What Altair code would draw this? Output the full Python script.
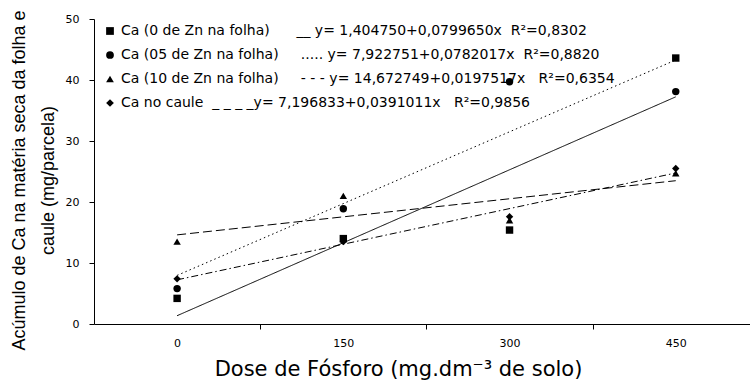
import altair as alt
import pandas as pd

# ---- data ----
doses = [0, 150, 300, 450]
series_names = [
    "Ca (0 de Zn na folha)",
    "Ca (05 de Zn na folha)",
    "Ca (10 de Zn na folha)",
    "Ca no caule",
]
ca_0zn = [4.2, 14.0, 15.4, 43.6]
ca_05zn = [5.8, 18.9, 39.7, 38.1]
ca_10zn = [13.5, 21.0, 17.0, 24.7]
ca_caule = [7.4, 13.5, 17.6, 25.5]
equations = [
    "__ y= 1,404750+0,0799650x",
    "..... y= 7,922751+0,0782017x",
    "- - - y= 14,672749+0,0197517x",
    "_ _ _ _y= 7,196833+0,0391011x",
]
r2_texts = ["R²=0,8302", "R²=0,8820", "R²=0,6354", "R²=0,9856"]
y_ticks = [0, 10, 20, 30, 40, 50]
x_labels = [0, 150, 300, 450]
x_ticks = [75, 225, 375]

NB = "\u00a0"
gap_name = [6, 5, 5, 2]
gap_r2 = [2, 2, 3, 3]
labels = [
    n + NB * g1 + e.replace(" ", NB) + NB * g2 + r
    for n, e, r, g1, g2 in zip(series_names, equations, r2_texts, gap_name, gap_r2)
]

rows = []
for lab, vals in zip(labels, [ca_0zn, ca_05zn, ca_10zn, ca_caule]):
    for d, v in zip(doses, vals):
        rows.append({"dose": d, "valor": v, "serie": lab})
df = pd.DataFrame(rows)

shapes = ["square", "circle", "triangle-up", "diamond"]
dashes = [[1, 0], [1.5, 3], [9, 4], [7, 3, 1.5, 3]]

FONT = "DejaVu Sans"

x_scale = alt.Scale(domain=[-75, 517], nice=False, zero=False)
y_scale = alt.Scale(domain=[0, 50], nice=False)

y_axis = alt.Axis(
    values=y_ticks,
    title=["Acúmulo de Ca na matéria seca da folha e", "caule (mg/parcela)"],
    titleFont="Liberation Sans",
    titleFontSize=18,
    titleFontWeight="normal",
    titleColor="black",
    titleLineHeight=29,
    titleX=-84,
    titleY=161,
    titleAngle=270,
    titleAlign="center",
    titleBaseline="top",
    labelFont=FONT,
    labelFontSize=11,
    labelColor="black",
    labelPadding=10,
    tickSize=5,
    tickColor="black",
    domainColor="black",
    grid=False,
)

lines = (
    alt.Chart(df)
    .transform_regression("dose", "valor", groupby=["serie"])
    .transform_calculate(linha="datum.serie")
    .mark_line(color="black", strokeWidth=1)
    .encode(
        x=alt.X(
            "dose:Q",
            scale=x_scale,
            axis=alt.Axis(
                orient="bottom",
                values=x_ticks,
                labels=False,
                ticks=True,
                tickSize=5,
                tickColor="black",
                domain=False,
                grid=False,
                title=None,
            ),
        ),
        y=alt.Y("valor:Q", scale=y_scale, axis=y_axis),
        strokeDash=alt.StrokeDash(
            "linha:N", scale=alt.Scale(domain=labels, range=dashes), legend=None
        ),
        detail="linha:N",
    )
)

points = (
    alt.Chart(df)
    .mark_point(filled=True, color="black", opacity=1, size=55)
    .encode(
        x=alt.X(
            "dose:Q",
            scale=x_scale,
            axis=alt.Axis(
                orient="bottom",
                values=x_labels,
                tickSize=0,
                labelFont=FONT,
                labelFontSize=11,
                labelColor="black",
                labelPadding=13,
                domainColor="black",
                grid=False,
                title="Dose de Fósforo (mg.dm⁻³ de solo)",
                titleFont=FONT,
                titleFontSize=21,
                titleFontWeight="normal",
                titleColor="black",
                titleX=304,
                titleY=51,
                titleAlign="center",
                titleBaseline="alphabetic",
            ),
        ),
        y=alt.Y("valor:Q", scale=y_scale, axis=y_axis),
        shape=alt.Shape(
            "serie:N",
            scale=alt.Scale(domain=labels, range=shapes),
            sort=labels,
            legend=alt.Legend(
                title=None,
                orient="none",
                legendX=9,
                legendY=5,
                padding=0,
                labelFont=FONT,
                labelFontSize=14,
                labelColor="black",
                labelLimit=800,
                labelOffset=4,
                rowPadding=10,
                symbolSize=60,
                symbolFillColor="black",
                symbolStrokeColor="black",
            ),
        ),
    )
)

chart = (
    alt.layer(lines, points)
    .resolve_axis(x="independent")
    .resolve_legend(shape="independent", strokeDash="independent")
    .properties(
        width=656,
        height=305,
        padding={"left": 94, "top": 19, "right": 0, "bottom": 57},
        autosize=alt.AutoSizeParams(type="none"),
        background="white",
    )
    .configure_view(stroke=None)
)

chart.save("out.html", embed_options={"renderer": "svg", "actions": False})
